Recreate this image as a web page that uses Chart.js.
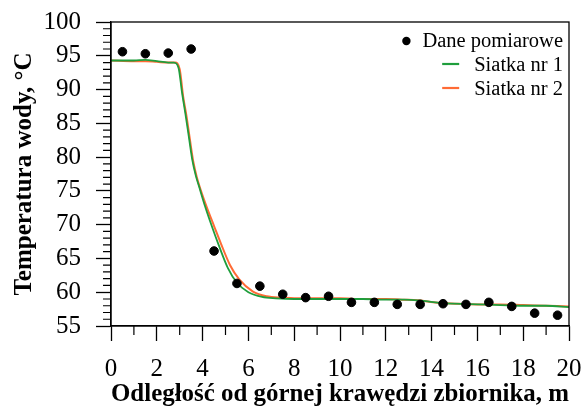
<!DOCTYPE html>
<html>
<head>
<meta charset="utf-8">
<script src="https://cdn.jsdelivr.net/npm/chart.js@4"></script>
<style>
  html, body { margin: 0; padding: 0; background: #fff; }
  #wrap { width: 584px; height: 406px; }
</style>
</head>
<body>
<div id="wrap"><canvas id="chart" width="584" height="406"></canvas></div>
<script>
// ─── Data ──────────────────────────────────────────────
const measX = [0.5, 1.5, 2.5, 3.5, 4.5, 5.5, 6.5, 7.5, 8.5, 9.5, 10.5, 11.5, 12.5, 13.5, 14.5, 15.5, 16.5, 17.5, 18.5, 19.5];
const measY = [95.6, 95.3, 95.4, 96.0, 66.1, 61.3, 60.9, 59.7, 59.2, 59.4, 58.5, 58.5, 58.2, 58.2, 58.3, 58.2, 58.5, 57.9, 56.9, 56.6];

const grid1X = [0, 1, 1.5, 2, 2.5, 2.75, 2.95, 3.1, 3.25, 3.4, 3.55, 3.7, 3.85, 4.1, 4.4, 4.7, 5.1, 5.5, 6.0, 6.6, 7.2, 8, 9, 10, 11, 12, 12.8, 13.4, 13.9, 14.4, 15, 16, 17, 18, 19, 20];
const grid1Y = [94.3, 94.3, 94.4, 94.2, 94.0, 94.0, 93.2, 89.6, 86.4, 83.0, 79.6, 77.3, 75.6, 72.8, 69.8, 67.0, 63.6, 61.4, 60.0, 59.3, 59.1, 59.0, 59.0, 59.0, 59.0, 58.9, 58.9, 58.8, 58.6, 58.4, 58.3, 58.2, 58.1, 58.0, 58.0, 57.8];

const grid2X = [0, 1, 1.5, 2, 2.5, 2.8, 3.0, 3.15, 3.3, 3.45, 3.6, 3.75, 3.9, 4.2, 4.5, 4.8, 5.2, 5.6, 6.2, 6.8, 7.5, 8, 9, 10, 11, 12, 12.8, 13.4, 13.9, 14.4, 15, 16, 17, 18, 19, 20];
const grid2Y = [94.3, 94.2, 94.2, 94.1, 94.0, 94.0, 93.0, 89.0, 86.0, 82.5, 79.2, 77.0, 75.3, 72.4, 69.8, 67.2, 64.0, 61.9, 60.1, 59.4, 59.2, 59.1, 59.1, 59.1, 59.0, 59.0, 58.9, 58.8, 58.6, 58.4, 58.3, 58.2, 58.2, 58.1, 58.0, 57.9];

const xTicks = [0, 2, 4, 6, 8, 10, 12, 14, 16, 18, 20];
const yTicks = [55, 60, 65, 70, 75, 80, 85, 90, 95, 100];

const seriesNames = ['Dane pomiarowe', 'Siatka nr 1', 'Siatka nr 2'];
const GREEN  = '#1f9e3c';
const ORANGE = '#ff6b35';
const SERIF  = '"Liberation Serif", "Times New Roman", serif';

const toPts = (xs, ys) => xs.map((x, i) => ({ x, y: ys[i] }));

// ─── Plugins ───────────────────────────────────────────

// frame round the plot + minor ticks every 1 unit
const framePlugin = {
  id: 'frame',
  afterDraw(chart) {
    const { ctx, chartArea: a, scales } = chart;
    ctx.save();
    ctx.strokeStyle = '#000';
    ctx.lineWidth = 1.3;
    ctx.strokeRect(a.left, a.top, a.right - a.left, a.bottom - a.top);

    ctx.lineWidth = 1.2;
    ctx.beginPath();
    for (let v = 56; v < 100; v++) {
      if (v % 5 === 0) continue;
      const py = scales.y.getPixelForValue(v);
      ctx.moveTo(a.left - 8, py);
      ctx.lineTo(a.left, py);
    }
    for (let v = 1; v < 20; v += 2) {
      const px = scales.x.getPixelForValue(v);
      ctx.moveTo(px, a.bottom);
      ctx.lineTo(px, a.bottom + 9);
    }
    ctx.stroke();
    ctx.restore();
  }
};

// legend inside the top-right corner, right aligned
const legendPlugin = {
  id: 'insideLegend',
  afterDraw(chart) {
    const { ctx, chartArea: a } = chart;
    ctx.save();
    ctx.font = `20.5px ${SERIF}`;
    ctx.textBaseline = 'middle';
    ctx.textAlign = 'right';
    const right = a.right - 6;
    const rows = [42, 66, 90];

    seriesNames.forEach((name, i) => {
      const y = rows[i];
      ctx.fillStyle = '#000';
      ctx.fillText(name, right, y);
      const w = ctx.measureText(name).width;
      const start = right - w;
      if (i === 0) {
        ctx.beginPath();
        ctx.arc(start - 16, y - 1, 4.2, 0, Math.PI * 2);
        ctx.fill();
      } else {
        ctx.strokeStyle = i === 1 ? GREEN : ORANGE;
        ctx.lineWidth = 2.2;
        ctx.beginPath();
        ctx.moveTo(start - 32, y - 2);
        ctx.lineTo(start - 15, y - 2);
        ctx.stroke();
      }
    });
    ctx.restore();
  }
};

// ─── Chart ─────────────────────────────────────────────

new Chart(document.getElementById('chart'), {
  type: 'scatter',
  data: {
    datasets: [
      {
        label: seriesNames[2],
        type: 'line',
        data: toPts(grid2X, grid2Y),
        borderColor: ORANGE,
        borderWidth: 2,
        pointRadius: 0,
        cubicInterpolationMode: 'monotone',
        order: 3,
      },
      {
        label: seriesNames[1],
        type: 'line',
        data: toPts(grid1X, grid1Y),
        borderColor: GREEN,
        borderWidth: 1.8,
        pointRadius: 0,
        cubicInterpolationMode: 'monotone',
        order: 2,
      },
      {
        label: seriesNames[0],
        data: toPts(measX, measY),
        backgroundColor: '#000',
        borderColor: '#000',
        pointRadius: 4.3,
        order: 1,
      },
    ],
  },
  options: {
    responsive: false,
    animation: false,
    layout: { padding: { top: 22, right: 15, left: 0, bottom: 0 } },
    plugins: {
      legend: { display: false },
      tooltip: { enabled: false },
    },
    scales: {
      x: {
        type: 'linear',
        min: 0,
        max: 20,
        afterBuildTicks: s => { s.ticks = xTicks.map(v => ({ value: v })); },
        afterFit: s => {
          s.height = 80;
          s.paddingLeft = 0;
          s.paddingRight = 0;
        },
        ticks: {
          color: '#000',
          font: { family: SERIF, size: 25 },
          padding: 13,
          maxRotation: 0,
          autoSkip: false,
        },
        grid: {
          drawOnChartArea: false,
          tickLength: 15,
          tickWidth: 1.3,
          tickColor: '#000',
        },
        border: { color: '#000', width: 1.3 },
        title: {
          display: true,
          text: 'Odległość od górnej krawędzi zbiornika, m',
          color: '#000',
          font: { family: SERIF, size: 25, weight: 'bold' },
          padding: { top: 0, bottom: -4 },
        },
      },
      y: {
        min: 55,
        max: 100,
        afterBuildTicks: s => { s.ticks = yTicks.map(v => ({ value: v })); },
        afterFit: s => {
          s.width = 111;
          s.paddingTop = 0;
          s.paddingBottom = 0;
        },
        ticks: {
          color: '#000',
          font: { family: SERIF, size: 25 },
          padding: 15,
          autoSkip: false,
        },
        grid: {
          drawOnChartArea: false,
          tickLength: 15,
          tickWidth: 1.3,
          tickColor: '#000',
        },
        border: { color: '#000', width: 1.3 },
        title: {
          display: true,
          text: 'Temperatura wody, °C',
          color: '#000',
          font: { family: SERIF, size: 25, weight: 'bold' },
          padding: { top: 10, bottom: 0 },
        },
      },
    },
  },
  plugins: [framePlugin, legendPlugin],
});
</script>
</body>
</html>
